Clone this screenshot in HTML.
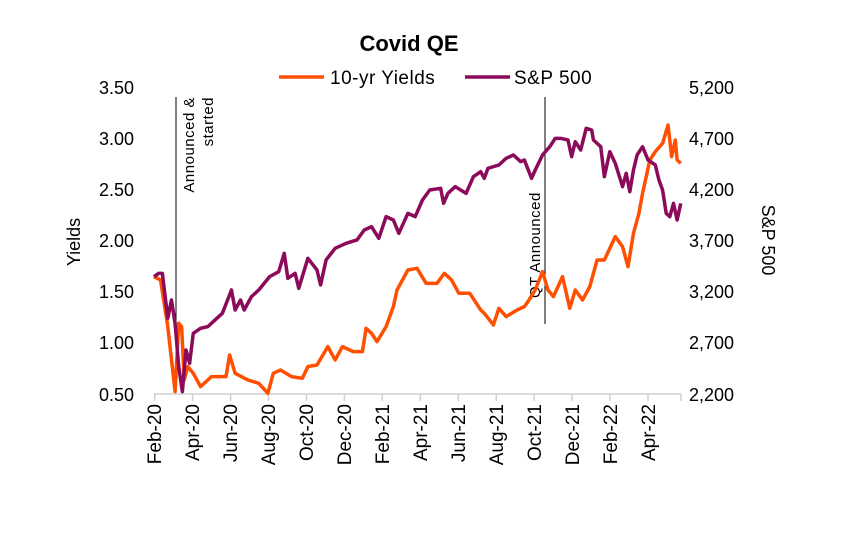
<!DOCTYPE html>
<html><head><meta charset="utf-8"><style>
html,body{margin:0;padding:0;background:#fff;}
svg{display:block;font-family:"Liberation Sans",Arial,sans-serif;}
</style></head><body>
<svg width="864" height="534" viewBox="0 0 864 534" xmlns="http://www.w3.org/2000/svg">
<rect width="864" height="534" fill="#fff"/>
<text x="409" y="51" text-anchor="middle" font-size="22" font-weight="bold">Covid QE</text>
<line x1="279" y1="77" x2="324" y2="77" stroke="#ff4f00" stroke-width="3.5"/>
<text x="330" y="84" font-size="19" letter-spacing="0.5">10-yr Yields</text>
<line x1="465" y1="77" x2="510" y2="77" stroke="#8b0a5a" stroke-width="3.5"/>
<text x="514" y="84" font-size="19" letter-spacing="0.5">S&amp;P 500</text>
<g font-size="18" text-anchor="end">
<text x="134" y="94">3.50</text><text x="134" y="145">3.00</text><text x="134" y="196">2.50</text>
<text x="134" y="247">2.00</text><text x="134" y="298">1.50</text><text x="134" y="349">1.00</text><text x="134" y="401">0.50</text>
</g>
<g font-size="18">
<text x="689" y="94">5,200</text><text x="689" y="145">4,700</text><text x="689" y="196">4,200</text>
<text x="689" y="247">3,700</text><text x="689" y="298">3,200</text><text x="689" y="349">2,700</text><text x="689" y="401">2,200</text>
</g>
<text transform="translate(80,242) rotate(-90)" font-size="18" text-anchor="middle">Yields</text>
<text transform="translate(762,240) rotate(90)" font-size="18" text-anchor="middle">S&amp;P 500</text>
<line x1="154" y1="394" x2="681" y2="394" stroke="#d0d0d0" stroke-width="1.5"/>
<g stroke="#d0d0d0" stroke-width="1.5">
<line x1="154.7" y1="394" x2="154.7" y2="401"/><line x1="192.6" y1="394" x2="192.6" y2="401"/><line x1="230.6" y1="394" x2="230.6" y2="401"/><line x1="268.5" y1="394" x2="268.5" y2="401"/><line x1="306.5" y1="394" x2="306.5" y2="401"/><line x1="344.4" y1="394" x2="344.4" y2="401"/><line x1="382.3" y1="394" x2="382.3" y2="401"/><line x1="420.3" y1="394" x2="420.3" y2="401"/><line x1="458.2" y1="394" x2="458.2" y2="401"/><line x1="496.2" y1="394" x2="496.2" y2="401"/><line x1="534.1" y1="394" x2="534.1" y2="401"/><line x1="572.0" y1="394" x2="572.0" y2="401"/><line x1="610" y1="394" x2="610" y2="401"/><line x1="648" y1="394" x2="648" y2="401"/><line x1="681" y1="394" x2="681" y2="401"/>
</g>
<g font-size="19" text-anchor="end">
<text transform="translate(161,404) rotate(-90)">Feb-20</text>
<text transform="translate(199,404) rotate(-90)">Apr-20</text>
<text transform="translate(237,404) rotate(-90)">Jun-20</text>
<text transform="translate(275,404) rotate(-90)">Aug-20</text>
<text transform="translate(313,404) rotate(-90)">Oct-20</text>
<text transform="translate(351,404) rotate(-90)">Dec-20</text>
<text transform="translate(389,404) rotate(-90)">Feb-21</text>
<text transform="translate(427,404) rotate(-90)">Apr-21</text>
<text transform="translate(465,404) rotate(-90)">Jun-21</text>
<text transform="translate(503,404) rotate(-90)">Aug-21</text>
<text transform="translate(541,404) rotate(-90)">Oct-21</text>
<text transform="translate(579,404) rotate(-90)">Dec-21</text>
<text transform="translate(617,404) rotate(-90)">Feb-22</text>
<text transform="translate(655,404) rotate(-90)">Apr-22</text>
</g>
<line x1="176" y1="97" x2="176" y2="323" stroke="#000" stroke-width="1"/>
<line x1="545" y1="97" x2="545" y2="324" stroke="#000" stroke-width="1"/>
<g font-size="15" letter-spacing="0.5" text-anchor="end">
<text transform="translate(194,97) rotate(-90)">Announced &amp;</text>
<text transform="translate(213,97) rotate(-90)">started</text>
</g>
<text transform="translate(540,298) rotate(-90)" font-size="15" letter-spacing="0.5">QT Announced</text>
<g transform="translate(138.7,80) scale(0.3638,0.3333)" fill="none" stroke-linejoin="round">
<polyline vector-effect="non-scaling-stroke" stroke="#ff4f00" stroke-width="3.5" points="42,590 60,600 80,740 100,935 110,730 118,740 125,900 135,860 150,880 170,920 200,890 240,890 250,825 265,880 300,900 330,910 355,940 370,880 390,870 420,890 450,895 465,860 490,855 520,800 540,840 560,800 590,815 615,815 625,745 640,760 655,785 680,740 700,680 710,630 740,570 765,565 790,610 820,610 840,580 860,600 880,640 910,640 940,690 950,700 975,735 990,685 1010,710 1040,690 1060,680 1070,665 1090,630 1110,575 1125,630 1140,650 1165,590 1185,685 1200,630 1220,660 1240,620 1260,540 1280,540 1310,470 1330,500 1345,560 1360,460 1375,400 1385,340 1395,290 1405,240 1420,215 1440,190 1455,135 1465,230 1475,180 1480,240 1490,250"/>
<polyline vector-effect="non-scaling-stroke" stroke="#8b0a5a" stroke-width="3.5" points="42,590 55,580 65,580 80,715 90,660 100,730 110,860 120,935 130,810 140,850 150,760 170,745 190,740 210,720 230,700 255,630 265,690 280,660 290,690 310,650 330,630 360,590 385,575 400,520 410,595 430,580 440,625 465,535 490,570 500,615 515,540 540,505 570,490 600,480 620,450 640,440 660,475 680,410 700,420 715,460 740,400 760,410 780,360 800,330 830,325 838,370 850,340 870,320 900,340 920,290 940,275 950,295 960,265 990,255 1010,235 1030,225 1050,245 1060,240 1080,295 1090,270 1110,225 1130,200 1145,175 1160,175 1180,180 1190,230 1200,185 1215,210 1230,145 1245,150 1250,180 1270,200 1280,290 1295,215 1310,250 1330,320 1340,280 1350,335 1360,270 1370,225 1385,200 1400,240 1420,255 1430,300 1440,330 1450,400 1460,410 1470,370 1480,420 1490,370"/>
</g>
</svg>
</body></html>
